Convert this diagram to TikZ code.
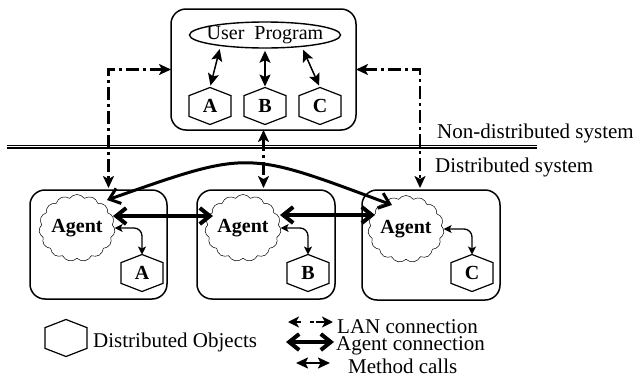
\documentclass[tikz,border=0pt]{standalone}
\usepackage{fontspec}
\setmainfont{Liberation Serif}
\usetikzlibrary{arrows.meta,shapes.geometric,shapes.symbols,calc}

% hexagon object: name, position, label
\newcommand\hexobj[3]{%
  \node[hexbox] (#1) at (#2) {#3};
  \draw[hexline] (#1.north)
    -- ($(#1.north east)!0.22!(#1.south east)$)
    -- ($(#1.north east)!0.78!(#1.south east)$)
    -- (#1.south)
    -- ($(#1.north west)!0.78!(#1.south west)$)
    -- ($(#1.north west)!0.22!(#1.south west)$) -- cycle;
}

\begin{document}
\begin{tikzpicture}[x=1pt,y=-1pt,
  font=\fontsize{20}{24}\selectfont,
  hostbox/.style={draw, line width=1.5pt, rounded corners=15pt, inner sep=0pt, outer sep=0pt},
  hexbox/.style={minimum width=42pt, minimum height=37pt, inner sep=0pt, outer sep=0pt,
    font=\bfseries\fontsize{20}{24}\selectfont},
  hexline/.style={line width=1.2pt, line join=miter},
  agentcloud/.style={cloud, cloud puffs=15, cloud puff arc=110, cloud ignores aspect, draw, line width=0.5pt,
    minimum width=76pt, minimum height=67pt, inner sep=0pt,
    font=\bfseries\fontsize{20}{24}\selectfont},
  mtop/.style={line width=1.5pt, {Stealth[length=12pt,width=11pt,inset=2.5pt]}-{Stealth[length=12pt,width=11pt,inset=2.5pt]}},
  mcall/.style={line width=1.3pt, rounded corners=8pt,
    {Stealth[length=8pt,width=8pt,inset=2pt]}-{Stealth[length=8pt,width=8pt,inset=2pt]}},
  lan/.style={line width=2.5pt, dash pattern=on 13pt off 4pt on 3pt off 4pt,
    {Stealth[length=12pt,width=11pt,inset=3pt]}-{Stealth[length=12pt,width=11pt,inset=3pt]}},
  agentlink/.style={line width=4pt, {Straight Barb[length=10pt,width=16pt]}-{Straight Barb[length=10pt,width=16pt]}},
  agentcurve/.style={line width=3pt, {Straight Barb[length=10pt,width=16pt]}-{Straight Barb[length=10pt,width=16pt]}},
  sidetext/.style={font=\fontsize{21}{24}\selectfont, inner sep=0pt, anchor=base west}
]
\useasboundingbox (0,0) rectangle (633,378);

% ---- user side ----
\node[hostbox, minimum width=185pt, minimum height=121pt] (ub) at (263.5,69.5) {};
\node[ellipse, draw, line width=1.4pt, minimum width=151pt, minimum height=26pt, inner sep=0pt]
  (up) at (265,35) {\raisebox{1pt}{\makebox[0pt]{User\ \ Program}}};
\hexobj{hA}{210,106}{A}
\hexobj{hB}{265,106}{B}
\hexobj{hC}{320,106}{C}
\draw[mtop, shorten <=3pt, shorten >=2pt] (up.194) -- (hA.north);
\draw[mtop, shorten <=2pt, shorten >=1pt] (up.south) -- (hB.north);
\draw[mtop, shorten <=3pt, shorten >=2pt] (up.-18) -- (hC.north);

% ---- separator ----
\coordinate (sepL) at (7,146.7);
\coordinate (sepR) at (537,146.7);
\draw[double, double distance=1.4pt, line width=1.1pt] (sepL) -- (sepR);
\node[sidetext] (tnd) at (437,138) {Non-distributed system};
\node[sidetext] (tds) at (435,172) {Distributed system};

% ---- hosts with agents ----
\node[hostbox, minimum width=137pt, minimum height=109pt] (b1) at (98.5,244.5) {};
\node[hostbox, minimum width=138pt, minimum height=109pt] (b2) at (266,244.5) {};
\node[hostbox, minimum width=138pt, minimum height=110pt] (b3) at (431,245) {};

\node[agentcloud] (ag1) at (77,228) {\raisebox{3pt}{\makebox[0pt]{Agent}}};
\node[agentcloud] (ag2) at (243,228) {\raisebox{3pt}{\makebox[0pt]{Agent}}};
\node[agentcloud] (ag3) at (406,229) {\raisebox{3pt}{\makebox[0pt]{Agent}}};

\hexobj{hA2}{142,273}{A}
\hexobj{hB2}{308,273}{B}
\hexobj{hC2}{472,273}{C}

% method calls agent <-> object
\draw[mcall] (ag1.east) -| (hA2.north);
\draw[mcall] (ag2.east) -| (hB2.north);
\draw[mcall] (ag3.east) -| (hC2.north);

% agent connections
\draw[agentlink] ($(ag1)+(36,-12)$) -- ($(ag2)+(-30,-12)$);
\draw[agentlink] ($(ag2)+(37,-13)$) -- ($(ag3)+(-31,-14)$);
\draw[agentcurve] ($(ag1)+(30,-28)$) .. controls (250,150) and (245,150) .. ($(ag3)+(-14,-24)$);

% LAN connections
\draw[lan, shorten >=2pt] (ub.west) -| ([xshift=10pt]b1.north);
\draw[lan, shorten >=2pt] (ub.east) -| ([xshift=-11pt]b3.north);
\draw[lan, shorten >=2pt] (ub.south) -- (ub.south |- b2.north);

% ---- legend ----
\hexobj{hL}{66,338}{}
\node[sidetext] (tobj) at (93,347) {Distributed Objects};

\coordinate (lanA) at (288,322);
\coordinate (lanB) at (333,322);
\draw[line width=2.5pt, dash pattern=on 6pt off 9pt on 4pt off 2pt on 10pt,
  {Stealth[length=11pt,width=11pt,inset=3pt]}-{Stealth[length=11pt,width=11pt,inset=3pt]}] (lanA) -- (lanB);
\node[sidetext] (tlan) at (337,333) {LAN connection};

\coordinate (agA) at (286,342);
\coordinate (agB) at (334,342);
\draw[agentlink] (agA) -- (agB);
\node[sidetext] (tag) at (336,350) {Agent connection};

\coordinate (mcA) at (296,363);
\coordinate (mcB) at (330,363);
\draw[line width=2pt, {Stealth[length=12pt,width=11pt,inset=2.5pt]}-{Stealth[length=12pt,width=11pt,inset=2.5pt]}] (mcA) -- (mcB);
\node[sidetext] (tmc) at (348,373) {Method calls};
\end{tikzpicture}
\end{document}
